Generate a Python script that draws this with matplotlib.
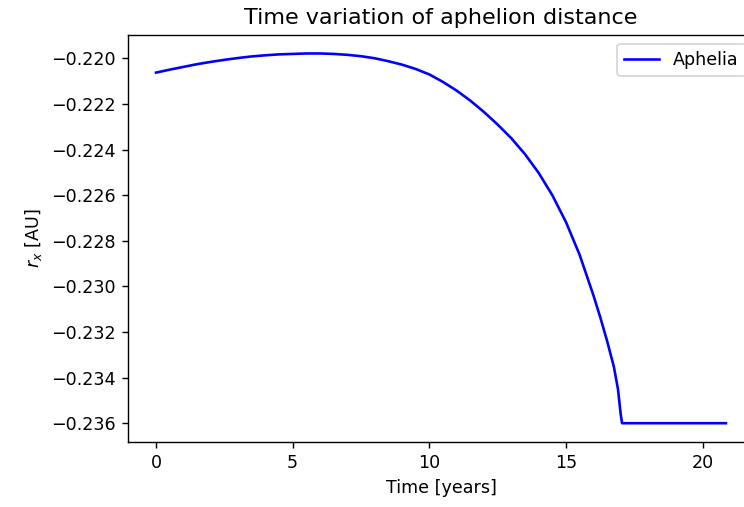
import numpy as np
import matplotlib
matplotlib.use('Agg')
import matplotlib.pyplot as plt

# aphelion x-position
time_years = [0.0, 0.5, 1.0, 1.5, 2.0, 2.5, 3.0, 3.5, 4.0, 4.5, 5.0, 5.5, 6.0, 6.5,
              7.0, 7.5, 8.0, 8.5, 9.0, 9.5, 10.0, 10.5, 11.0, 11.5, 12.0, 12.5,
              13.0, 13.5, 14.0, 14.5, 15.0, 15.5, 16.0, 16.25, 16.5, 16.75, 16.9,
              17.0, 17.05, 18.0, 19.0, 20.0, 20.85]
aphelia = [-0.22062, -0.22049, -0.22037, -0.22025, -0.22015, -0.22006, -0.21998,
           -0.21991, -0.21986, -0.21982, -0.21980, -0.21978, -0.21978, -0.21980,
           -0.21984, -0.21990, -0.21999, -0.22012, -0.22027, -0.22046, -0.22070,
           -0.22103, -0.22141, -0.22185, -0.22235, -0.22290, -0.22350, -0.22420,
           -0.22502, -0.22600, -0.22718, -0.22862, -0.23038, -0.23134, -0.23238,
           -0.23352, -0.23450, -0.23560, -0.23600, -0.23600, -0.23600, -0.23600,
           -0.23600]

dpi = 126
fig = plt.figure(figsize=(744 / dpi, 507 / dpi), dpi=dpi)
# axes run past the right edge, like the cropped original
ax = fig.add_axes([0.1714, 0.1288, 1.0140 - 0.1714, 0.931 - 0.1288])
ax.plot(time_years, aphelia, color='blue', lw=1.5, label='Aphelia')
ax.set_title('Time variation of aphelion distance', fontsize=12.7)
ax.set_xlabel('Time [years]')
ax.set_ylabel(r'$r_x$ [AU]')
ax.set_xticks([0, 5, 10, 15, 20])
yt = np.arange(-0.236, -0.2195, 0.002)
ax.set_yticks(yt)
ax.set_yticklabels([f'{v:.3f}'.replace('-', '\u2212') for v in yt])
ax.legend(loc='upper right')
fig.savefig('out.png', dpi=dpi)
plt.close()
